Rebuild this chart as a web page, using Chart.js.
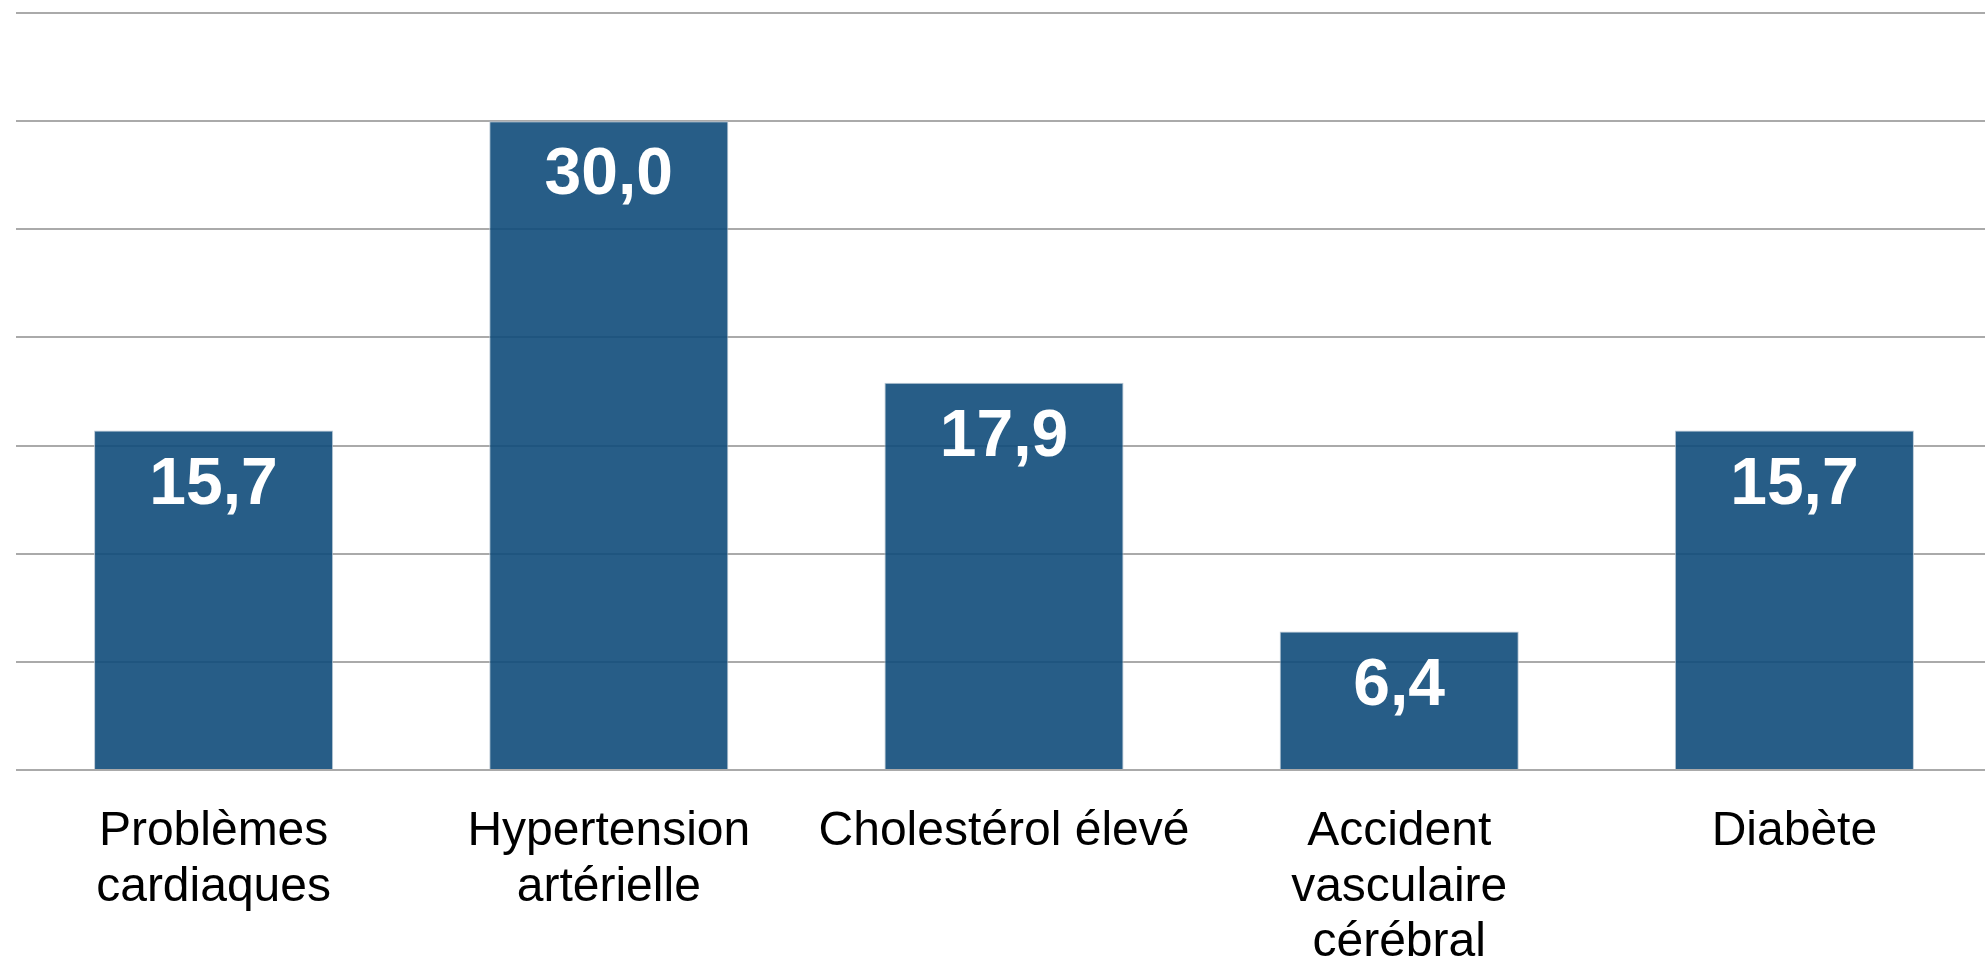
<!DOCTYPE html>
<html>
<head>
<meta charset="utf-8">
<script src="https://cdn.jsdelivr.net/npm/chart.js@4/dist/chart.umd.min.js"></script>
<style>
html, body { margin: 0; padding: 0; background: #fff; overflow: hidden; }
#wrap { width: 1992px; height: 997px; }
</style>
</head>
<body>
<div id="wrap"><canvas id="barChart"></canvas></div>
<script>
var labels = [['Problèmes', 'cardiaques'], ['Hypertension', 'artérielle'], 'Cholestérol élevé', ['Accident', 'vasculaire', 'cérébral'], 'Diabète'];
var values = [15.7, 30.0, 17.9, 6.4, 15.7];
var yMin = 0;
var yMax = 35;
var yStep = 5;

// valeurs écrites dans les barres, format français
var valueLabels = {
    id: 'valueLabels',
    afterDatasetsDraw: function (chart) {
        var ctx = chart.ctx;
        var meta = chart.getDatasetMeta(0);
        ctx.save();
        ctx.fillStyle = '#ffffff';
        ctx.font = 'bold 66px "Liberation Sans", Arial, sans-serif';
        ctx.textAlign = 'center';
        ctx.textBaseline = 'top';
        meta.data.forEach(function (bar, i) {
            var txt = values[i].toFixed(1).replace('.', ',');
            ctx.fillText(txt, bar.x, bar.y + 22);
        });
        ctx.restore();
    }
};

var data = {
    labels: labels,
    datasets: [{
        data: values,
        backgroundColor: 'rgba(16, 75, 122, 0.9)',
        borderColor: 'rgba(180, 195, 210, 0.9)',
        borderWidth: 1,
        barPercentage: 0.605,
        categoryPercentage: 1.0
    }]
};

var config = {
    type: 'bar',
    data: data,
    options: {
        responsive: true,
        maintainAspectRatio: false,
        animation: false,
        layout: { padding: { left: 16, top: 13, right: 0, bottom: 0 } },
        plugins: {
            legend: { display: false },
            tooltip: { enabled: false }
        },
        scales: {
            x: {
                grid: { display: false },
                border: { display: false },
                ticks: {
                    color: '#000000',
                    maxRotation: 0,
                    autoSkip: false,
                    padding: 26,
                    font: { family: '"Liberation Sans", Arial, sans-serif', size: 48, lineHeight: 1.16 }
                }
            },
            y: {
                min: yMin,
                max: yMax,
                ticks: { display: false, stepSize: yStep },
                grid: { color: '#aaaaaa', lineWidth: 2, drawTicks: false },
                border: { display: false }
            }
        }
    },
    plugins: [valueLabels]
};

var barChart = new Chart(document.getElementById('barChart'), config);
</script>
</body>
</html>
